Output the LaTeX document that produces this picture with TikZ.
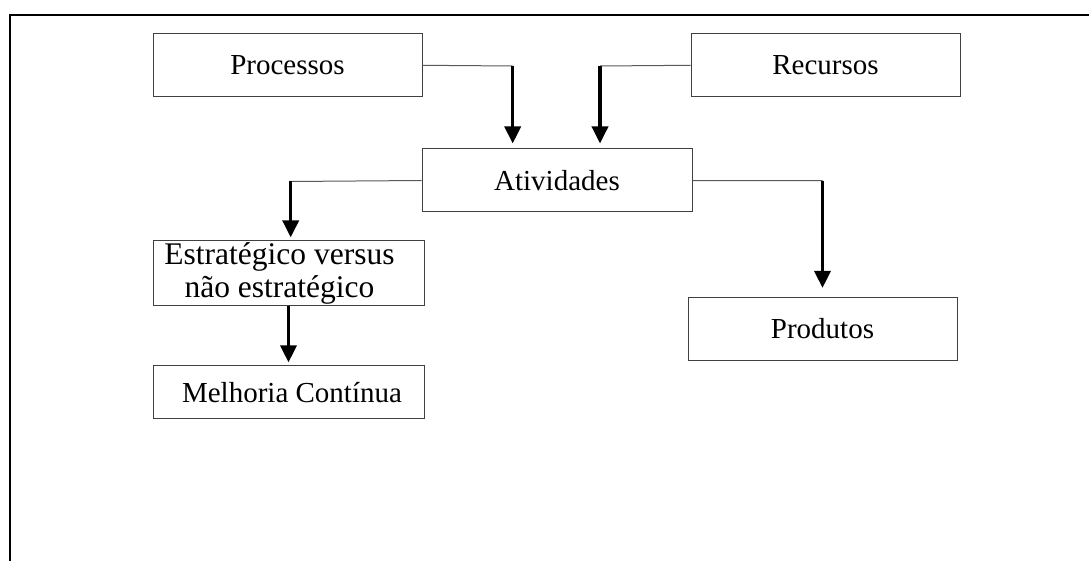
\documentclass[tikz,border=0pt]{standalone}
\usepackage{fontspec}
\setmainfont{Liberation Serif}
\usetikzlibrary{arrows.meta}

\begin{document}
\begin{tikzpicture}[x=1pt, y=-1pt,
  box/.style={draw=black!75, line width=1pt, minimum width=269pt, minimum height=63pt,
    inner sep=0pt, font=\fontsize{29}{31}\selectfont},
  link/.style={draw=black!65, line width=1pt},
  flow/.style={line width=3.5pt, -{Triangle[length=17pt, width=16pt]}, shorten >=5pt},
  frame/.style={line width=2pt}]
\useasboundingbox (0,0) rectangle (1089,561);

% Frame
\draw[frame] (9.5,561) -- (9.5,14.7) -- (1089,14.7);

% Boxes
\node[box] (proc) at (287.5,65.3) {Processos};
\node[box] (recu) at (825.5,65.3) {Recursos};
\node[box, minimum width=270pt] (ativ) at (557,180.5) {Atividades};
\node[box, minimum width=271pt, minimum height=65pt, align=center,
  font=\fontsize{31.5}{32.5}\selectfont] (estr) at (288.5,273.4)
  {Estratégico versus\hspace*{18pt}\\não estratégico\hspace*{18pt}};
\node[box, minimum width=271pt, minimum height=53pt] (melh) at (288.5,392.4) {\hspace*{7pt}Melhoria Contínua};
\node[box] (prod) at (822.5,328.9) {Produtos};

% Corners
\coordinate (c1) at (512.7,66);
\coordinate (c2) at (600,66);
\coordinate (c3) at (290.7,181.5);
\coordinate (c4) at (822.5,180.7);

% Connectors
\draw[link] (proc.east) -- (c1);
\draw[flow] (c1) -- (c1 |- ativ.north);
\draw[link] (recu.west) -- (c2);
\draw[flow] (c2) -- (c2 |- ativ.north);
\draw[link] (ativ.west) -- (c3);
\draw[flow, shorten >=3pt] (c3) -- (c3 |- estr.north);
\draw[flow, shorten >=3pt] (estr.south) -- (melh.north);
\draw[link] (ativ.east) -- (c4);
\draw[flow, shorten >=9pt] (c4) -- (prod.north);
\end{tikzpicture}
\end{document}
